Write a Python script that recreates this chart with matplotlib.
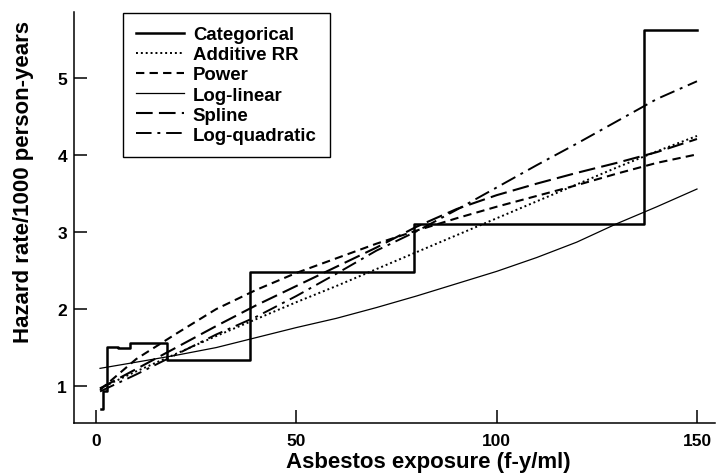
import matplotlib
matplotlib.use("Agg")
import matplotlib.pyplot as plt

plt.rcParams['font.family'] = ['Liberation Sans', 'DejaVu Sans']
plt.rcParams['font.weight'] = 'bold'

# Categorical step estimate (step edges and level per interval)
cat_edges = [1.3, 1.75, 2.7, 5.5, 8.5, 17.7, 38.4, 79.3, 136.9, 150]
cat_levels = [0.70, 0.93, 1.51, 1.49, 1.56, 1.34, 2.48, 3.10, 5.62]

# Smooth model curves, read at these exposures
exposure = [1, 10, 20, 30, 40, 50, 60, 70, 80, 90, 100, 110, 120, 130, 140, 150]
additive_rr = [0.97, 1.19, 1.42, 1.65, 1.87, 2.09, 2.30, 2.52, 2.74, 2.96, 3.18, 3.40, 3.62, 3.84, 4.05, 4.25]
power = [0.95, 1.35, 1.68, 2.00, 2.25, 2.47, 2.66, 2.85, 3.02, 3.18, 3.33, 3.47, 3.61, 3.76, 3.90, 4.01]
log_linear = [1.23, 1.31, 1.40, 1.50, 1.63, 1.76, 1.88, 2.02, 2.17, 2.33, 2.49, 2.67, 2.87, 3.11, 3.33, 3.56]
spline = [0.97, 1.22, 1.50, 1.78, 2.05, 2.30, 2.55, 2.80, 3.07, 3.30, 3.48, 3.63, 3.77, 3.90, 4.04, 4.21]
log_quadratic = [0.93, 1.15, 1.41, 1.67, 1.90, 2.17, 2.46, 2.76, 3.01, 3.29, 3.58, 3.87, 4.15, 4.44, 4.73, 4.96]

labels = ["Categorical", "Additive RR", "Power", "Log-linear", "Spline", "Log-quadratic"]
x_ticks = [0, 50, 100, 150]
y_ticks = [1, 2, 3, 4, 5]

fig = plt.figure(figsize=(7.18, 4.77), dpi=100)
ax = fig.add_axes([74 / 718, 1 - 424 / 477, (715 - 74) / 718, (424 - 13) / 477])

ax.plot(cat_edges, cat_levels + [cat_levels[-1]], drawstyle='steps-post',
        color='black', lw=1.8, label=labels[0])
ax.plot(exposure, additive_rr, color='black', lw=1.4, ls=(0, (1, 1.5)), label=labels[1])
ax.plot(exposure, power, color='black', lw=1.5, ls=(0, (4, 2.5)), label=labels[2])
ax.plot(exposure, log_linear, color='black', lw=0.9, ls='-', label=labels[3])
ax.plot(exposure, spline, color='black', lw=1.5, ls=(0, (8, 3)), label=labels[4])
ax.plot(exposure, log_quadratic, color='black', lw=1.4, ls=(0, (8, 3, 1.5, 3)), label=labels[5])

ax.set_xlim(-5.5, 154.5)
ax.set_ylim(0.52, 5.86)
ax.set_xticks(x_ticks)
ax.set_yticks(y_ticks)
ax.tick_params(direction='in', length=9.5, width=1.1, labelsize=12.5)
ax.tick_params(axis='x', pad=7)
ax.tick_params(axis='y', pad=5)
for s in ['top', 'right']:
    ax.spines[s].set_visible(False)
for s in ['left', 'bottom']:
    ax.spines[s].set_linewidth(1.1)

ax.set_xlabel("Asbestos exposure (f-y/ml)", fontsize=16, fontweight='bold')
ax.xaxis.set_label_coords((428 - 74) / 641, -(463 - 424) / 411, transform=ax.transAxes)
ax.set_ylabel("Hazard rate/1000 person-years", fontsize=16, fontweight='bold')
ax.yaxis.set_label_coords(-(74 - 24) / 641, (424 - 182) / 411, transform=ax.transAxes)
ax.xaxis.label.set_va('center')
ax.yaxis.label.set_va('center')

leg = ax.legend(loc='upper left', bbox_to_anchor=((123 - 74) / 641, (424 - 14) / 411),
                prop={'size': 13.4, 'weight': 'bold'},
                frameon=True, fancybox=False, framealpha=1, edgecolor='black',
                handlelength=2.6, handletextpad=0.45, labelspacing=0.17,
                borderpad=0.7, borderaxespad=0)
leg.get_frame().set_linewidth(1.0)

fig.savefig("out.png", dpi=100)
